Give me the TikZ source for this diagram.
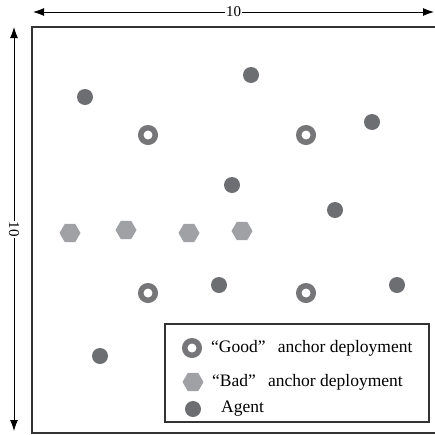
\documentclass[tikz,border=0pt]{standalone}
\usepackage{fontspec}
\setmainfont{Liberation Serif}
\usepackage{tikz}
\usetikzlibrary{arrows.meta,positioning,shapes.geometric}
\definecolor{agentgray}{RGB}{109,110,113}
\definecolor{ringgray}{RGB}{118,118,121}
\definecolor{hexgray}{RGB}{160,161,165}

\begin{document}
\begin{tikzpicture}[x=1pt, y=-1pt,
  agent/.style={circle, fill=agentgray, minimum size=16pt, inner sep=0pt},
  goodanchor/.style={circle, draw=ringgray, line width=5.5pt, fill=white, minimum size=14.5pt, inner sep=0pt},
  badanchor/.style={regular polygon, regular polygon sides=6, fill=hexgray, minimum size=21pt, inner sep=0pt},
  dimarrow/.style={{Latex[length=11pt,width=8pt]}-{Latex[length=11pt,width=8pt]}, line width=0.9pt},
  dimlabel/.style={fill=white, inner sep=1pt, font=\fontsize{15}{15}\selectfont},
  legendtext/.style={anchor=west, font=\fontsize{17.5}{19}\selectfont, inner sep=0pt}]
  \useasboundingbox (0,0) rectangle (435,434);
  % field frame
  \draw[line width=1.2pt, draw=black!80] (32,27) rectangle (436,433);
  % dimension arrows
  \coordinate (topL) at (33,12);
  \coordinate (topR) at (434,12);
  \coordinate (leftT) at (14,27);
  \coordinate (leftB) at (14,431);
  \draw[dimarrow] (topL) -- node[dimlabel] (widthlabel) {10} (topR);
  \draw[dimarrow] (leftT) -- node[dimlabel, rotate=-90] (heightlabel) {10} (leftB);
  % agents
  \foreach \x/\y [count=\i] in {85/97, 251/75, 372/122, 232/185, 335/210, 219/285, 397/285, 100/356}
    \node[agent] (agent\i) at (\x,\y) {};
  % good anchors
  \foreach \x/\y [count=\i] in {148/135, 306/135, 148/293, 306/293}
    \node[goodanchor] (good\i) at (\x,\y) {};
  % bad anchors
  \foreach \x/\y [count=\i] in {70/233, 126/230, 189/233, 242/231}
    \node[badanchor] (bad\i) at (\x,\y) {};
  % legend
  \draw[line width=1.2pt, draw=black!80] (165,324) rectangle (429,422);
  \node[goodanchor] (keygood) at (192,348) {};
  \node[badanchor] (keybad) at (193,382) {};
  \node[agent] (keyagent) at (193,409) {};
  \node[legendtext] (textgood) at (211,348) {“Good”\hspace{0.7em}anchor deployment};
  \node[legendtext] (textbad) at (212,382) {“Bad”\hspace{0.7em}anchor deployment};
  \node[legendtext] (textagent) at (221,409) {Agent};
\end{tikzpicture}
\end{document}
